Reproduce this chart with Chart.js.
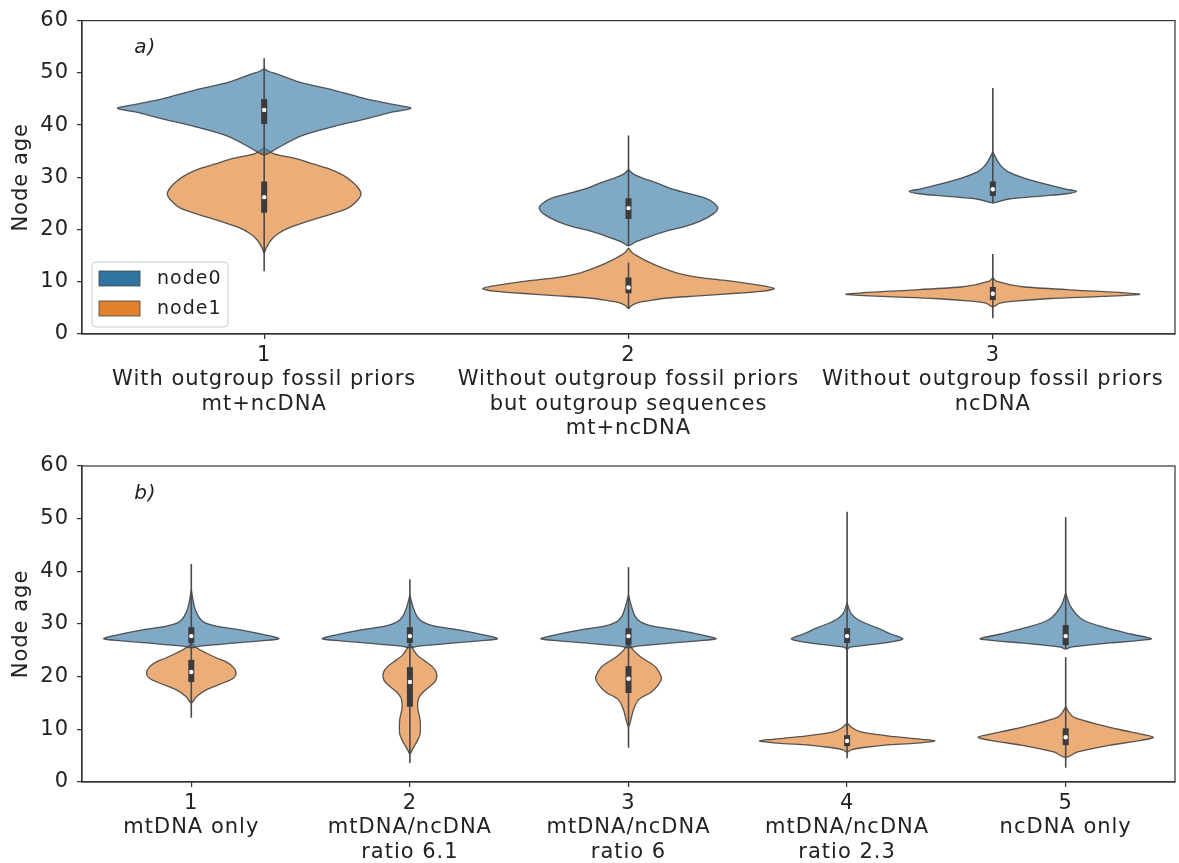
<!DOCTYPE html>
<html>
<head>
<meta charset="utf-8">
<script src="https://cdn.jsdelivr.net/npm/chart.js@4.4.1/dist/chart.umd.min.js"></script>
<style>
  body { margin: 0; background: #fff; }
  #wrap { position: relative; width: 1179px; height: 863px; }
  canvas { position: absolute; left: 0; }
  #chartA { top: 0; }
  #chartB { top: 440px; }
</style>
</head>
<body>
<div id="wrap">
  <canvas id="chartA" width="1179" height="440"></canvas>
  <canvas id="chartB" width="1179" height="423"></canvas>
</div>
<script>
// ---- data (ages; violin half-widths are in category units) ----
const topCategories = [
    ['1', 'With outgroup fossil priors', 'mt+ncDNA'],
    ['2', 'Without outgroup fossil priors', 'but outgroup sequences', 'mt+ncDNA'],
    ['3', 'Without outgroup fossil priors', 'ncDNA']
];
const bottomCategories = [
    ['1', 'mtDNA only'],
    ['2', 'mtDNA/ncDNA', 'ratio 6.1'],
    ['3', 'mtDNA/ncDNA', 'ratio 6'],
    ['4', 'mtDNA/ncDNA', 'ratio 2.3'],
    ['5', 'ncDNA only']
];
const seriesNames = ['node0', 'node1'];
const yTicks = [0, 10, 20, 30, 40, 50, 60];

// density profiles: [age, half width]
const topNode0Shapes = [
    [[50.8,0],[50.3,0.012],[49.8,0.034],[48.2,0.097],[46.7,0.19],[45,0.28],[44,0.35],[43.2,0.403],[42.3,0.34],[41.2,0.28],[39.7,0.19],[37.8,0.097],[35.5,0.034],[34.3,0]],
    [[31.5,0],[30.5,0.016],[29.6,0.049],[28.8,0.082],[27.9,0.115],[27,0.159],[26,0.211],[25,0.236],[24.1,0.245],[23,0.233],[21.6,0.197],[20.5,0.151],[19.7,0.104],[18.9,0.068],[18.2,0.041],[17.5,0.016],[16.9,0]],
    [[34.9,0],[33,0.014],[32,0.025],[31.1,0.041],[29.8,0.088],[28.6,0.151],[27.8,0.197],[27.3,0.23],[26.8,0.197],[26.4,0.132],[25.8,0.041],[25.1,0]]
];
const topNode1Shapes = [
    [[35.6,0],[34.5,0.027],[33.6,0.085],[32.5,0.137],[31.7,0.175],[30.5,0.214],[29.2,0.241],[28,0.258],[26.8,0.266],[25.5,0.255],[24.1,0.23],[23,0.186],[21.6,0.121],[20.5,0.074],[19.2,0.038],[18,0.019],[16.5,0.006],[15.5,0]],
    [[16.5,0],[15.5,0.011],[14,0.049],[12.8,0.088],[11.5,0.142],[10.8,0.197],[10.3,0.26],[9.3,0.362],[8.7,0.4],[8.2,0.37],[7.8,0.296],[7.3,0.192],[6.8,0.096],[6.3,0.049],[5.9,0.022],[5.4,0.008],[4.9,0]],
    [[10.8,0],[10.2,0.008],[9.9,0.022],[9.4,0.049],[9,0.088],[8.3,0.252],[7.9,0.356],[7.6,0.403],[7.2,0.301],[6.8,0.159],[6.3,0.06],[5.9,0.019],[5.2,0]]
];
const bottomNode0Shapes = [
    [[36.5,0],[33.3,0.014],[31.5,0.032],[30.4,0.055],[29.6,0.114],[28.9,0.224],[27.9,0.342],[27.2,0.401],[26.8,0.319],[26.4,0.205],[25.8,0.041],[25.5,0]],
    [[35.5,0],[33.3,0.014],[31.5,0.032],[30.4,0.058],[29.6,0.114],[28.9,0.224],[27.9,0.342],[27.2,0.401],[26.8,0.319],[26.4,0.205],[25.8,0.041],[25.5,0]],
    [[35.5,0],[33.3,0.014],[31.5,0.03],[30.4,0.055],[29.6,0.11],[28.9,0.22],[27.9,0.34],[27.2,0.401],[26.8,0.32],[26.4,0.2],[25.8,0.04],[25.5,0]],
    [[34,0],[32,0.018],[30.8,0.05],[29.2,0.141],[28.1,0.201],[27.2,0.255],[26.8,0.228],[26.4,0.173],[25.6,0.014],[25.2,0]],
    [[35.9,0],[33.3,0.023],[30.8,0.078],[29.2,0.192],[28.1,0.297],[27.2,0.392],[26.8,0.319],[26.4,0.205],[25.6,0.023],[25.2,0]]
];
const bottomNode1Shapes = [
    [[26.4,0],[25.5,0.023],[24.5,0.068],[23.5,0.119],[22.8,0.16],[21.8,0.192],[20.7,0.205],[19.7,0.192],[18.8,0.146],[17.5,0.068],[16.2,0.023],[15,0]],
    [[26.4,0],[25,0.018],[24,0.036],[23,0.068],[22,0.1],[21,0.119],[20,0.123],[19,0.114],[18,0.087],[17,0.059],[16,0.041],[15,0.036],[14,0.036],[13,0.041],[12,0.046],[11,0.048],[10,0.048],[9,0.046],[8,0.036],[7,0.023],[6,0.009],[5.3,0]],
    [[26.4,0],[25,0.023],[23.8,0.055],[21.9,0.123],[20.8,0.141],[19.7,0.151],[18.5,0.137],[17.1,0.105],[15.6,0.046],[13.7,0.023],[11.2,0.007],[10.5,0]],
    [[11.2,0],[10.3,0.023],[9.5,0.064],[8.6,0.219],[8.1,0.342],[7.8,0.401],[7.4,0.319],[7,0.173],[6.5,0.068],[6.1,0.018],[5.7,0]],
    [[14.3,0],[13.3,0.014],[12.3,0.036],[10.8,0.16],[9.5,0.297],[8.5,0.401],[7.8,0.328],[7,0.205],[5.7,0.055],[4.7,0]]
];

// inner box: [whisker low, q1, median, q3, whisker high]
const topNode0Boxes = [[34.5,40.2,42.9,45,52.8],[17,22,24.1,26,38],[25,26.4,27.7,29.2,47.1]];
const topNode1Boxes = [[12,23.2,26.2,29.2,35],[4.9,7.8,8.9,10.8,13.7],[3,6.5,7.7,9,15.3]];
const bottomNode0Boxes = [[25.5,26.4,27.7,29.4,41.4],[25.5,26.4,27.7,29.4,38.5],[25.5,26,27.7,29.2,40.8],[10,26.4,27.7,29.2,51.3],[25.3,26,27.7,29.8,50.3]];
const bottomNode1Boxes = [[12.2,19,20.9,23.2,26.4],[3.6,14.3,19,21.8,26.4],[6.5,16.9,19.6,22,26.4],[4.5,6.8,7.8,8.9,26],[2.7,7,8.5,10.2,23.7]];

// ---- styling ----
const solidColors = ['#3274a1', '#e1812c'];
const violinFills = ['rgba(50, 116, 161, 0.62)', 'rgba(225, 129, 44, 0.64)'];
const edgeColor = 'rgba(60, 60, 60, 0.85)';
const boxColor = '#3b3b3b';
const whiskerColor = '#4a4a4a';
const axisColor = '#333';
const textColor = '#222';

Chart.defaults.font.family = "'DejaVu Sans', sans-serif";
Chart.defaults.color = textColor;

function buildDatasets(shapesPerNode, boxesPerNode) {
    const datasets = [];
    shapesPerNode.forEach((shapes, n) => {
        shapes.forEach((shape, i) => {
            const c = i + 1;
            const right = shape.map(([age, w]) => ({ x: c + w, y: age }));
            const left = shape.slice(1, -1).reverse().map(([age, w]) => ({ x: c - w, y: age }));
            datasets.push({
                label: seriesNames[n],
                data: right.concat(left, [right[0]]),
                fill: 'shape',
                backgroundColor: violinFills[n],
                borderColor: edgeColor,
                borderWidth: 1.3,
                pointRadius: 0,
                tension: 0.3,
                order: 3
            });
        });
        boxesPerNode[n].forEach(([lo, q1, med, q3, hi], i) => {
            const c = i + 1;
            datasets.push({
                data: [{ x: c, y: lo }, { x: c, y: hi }],
                borderColor: whiskerColor, borderWidth: 1.6,
                pointRadius: 0, fill: false, order: 2
            });
            datasets.push({
                data: [{ x: c, y: q1 }, { x: c, y: q3 }],
                borderColor: boxColor, borderWidth: 6, borderCapStyle: 'butt',
                pointRadius: 0, fill: false, order: 1
            });
        });
        datasets.push({
            type: 'scatter',
            data: boxesPerNode[n].map((b, i) => ({ x: i + 1, y: b[2] })),
            pointRadius: 2.2, pointBackgroundColor: '#fff', pointBorderWidth: 0, order: 0
        });
    });
    return datasets;
}

// the source figure's text runs a little wide
function widenText(chart) {
    chart.ctx.letterSpacing = '1px';
}

// frame, panel tag and (optionally) legend
const panelPlugin = {
    id: 'panel',
    beforeUpdate: widenText,
    beforeDraw: widenText,
    afterDraw(chart, args, opts) {
        const { ctx, chartArea: a } = chart;
        ctx.save();
        ctx.strokeStyle = axisColor;
        ctx.lineWidth = 1.2;
        ctx.strokeRect(a.left, a.top, a.right - a.left, a.bottom - a.top);

        ctx.fillStyle = textColor;
        ctx.font = "italic 20px 'DejaVu Sans'";
        ctx.textAlign = 'center';
        ctx.textBaseline = 'middle';
        ctx.fillText(opts.tag, a.left + 0.058 * (a.right - a.left), a.top + 0.088 * (a.bottom - a.top));

        if (opts.withLegend) {
            ctx.beginPath();
            ctx.roundRect(a.left + 10, a.bottom - 72, 136, 65, 4);
            ctx.fillStyle = 'rgba(255,255,255,0.8)';
            ctx.fill();
            ctx.strokeStyle = '#cccccc';
            ctx.lineWidth = 1;
            ctx.stroke();
            ctx.font = "19px 'DejaVu Sans'";
            ctx.textAlign = 'left';
            seriesNames.forEach((name, k) => {
                const y = a.bottom - 63 + 30 * k;
                ctx.fillStyle = solidColors[k];
                ctx.fillRect(a.left + 17, y, 41, 15);
                ctx.strokeStyle = '#444';
                ctx.lineWidth = 0.8;
                ctx.strokeRect(a.left + 17, y, 41, 15);
                ctx.fillStyle = textColor;
                ctx.fillText(name, a.left + 75, y + 8);
            });
        }
        ctx.restore();
    }
};

function makeOptions(categories, xHeight, padTop, tag, withLegend) {
    const gridStyle = { drawOnChartArea: false, drawTicks: true, tickLength: 5, color: axisColor, lineWidth: 1.2 };
    return {
        responsive: false,
        animation: false,
        events: [],
        layout: { padding: { top: padTop, right: 1, left: 0, bottom: 0 } },
        plugins: {
            legend: { display: false },
            tooltip: { enabled: false },
            panel: { tag: tag, withLegend: withLegend }
        },
        scales: {
            x: {
                type: 'linear',
                min: 0.5,
                max: categories.length + 0.5,
                afterBuildTicks: s => { s.ticks = categories.map((_, i) => ({ value: i + 1 })); },
                afterFit: s => { s.height = xHeight; },
                ticks: {
                    callback: v => categories[Math.round(v) - 1],
                    font: { size: 21, lineHeight: '24.5px' },
                    padding: 4,
                    maxRotation: 0,
                    autoSkip: false,
                    color: textColor
                },
                grid: gridStyle,
                border: { color: axisColor, width: 1.2 }
            },
            y: {
                min: 0,
                max: 60,
                afterBuildTicks: s => { s.ticks = yTicks.map(v => ({ value: v })); },
                afterFit: s => { s.width = 82; },
                ticks: { font: { size: 21 }, padding: 8, color: textColor },
                grid: gridStyle,
                border: { color: axisColor, width: 1.2 },
                title: {
                    display: true,
                    text: 'Node age',
                    font: { size: 21 },
                    padding: { top: 9, bottom: 0 },
                    color: textColor
                }
            }
        }
    };
}

new Chart(document.getElementById('chartA'), {
    type: 'line',
    data: { datasets: buildDatasets([topNode0Shapes, topNode1Shapes], [topNode0Boxes, topNode1Boxes]) },
    options: makeOptions(topCategories, 106, 17, 'a)', true),
    plugins: [panelPlugin]
});

new Chart(document.getElementById('chartB'), {
    type: 'line',
    data: { datasets: buildDatasets([bottomNode0Shapes, bottomNode1Shapes], [bottomNode0Boxes, bottomNode1Boxes]) },
    options: makeOptions(bottomCategories, 81, 26, 'b)', false),
    plugins: [panelPlugin]
});
</script>
</body>
</html>
